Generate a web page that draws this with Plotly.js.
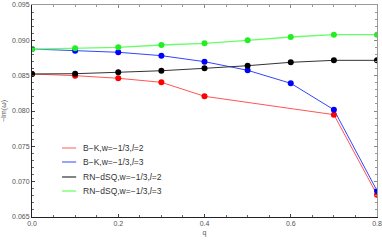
<!DOCTYPE html>
<html><head><meta charset="utf-8">
<script src="https://cdn.plot.ly/plotly-3.0.1.min.js"></script>
<style>html,body{margin:0;padding:0;background:#fff}#c{width:382px;height:240px}</style>
</head><body><div id="c"></div>
<script>
const qRed = [0, 0.1, 0.2, 0.3, 0.4, 0.7, 0.8];
const redBK2 = [0.08524, 0.0850, 0.08463, 0.08406, 0.08208, 0.07948, 0.06816];
const qAll = [0, 0.1, 0.2, 0.3, 0.4, 0.5, 0.6, 0.7, 0.8];
const blueBK3 = [0.08877, 0.08853, 0.08831, 0.08783, 0.08698, 0.08576, 0.08392, 0.08018, 0.06872];
const blackRN2 = [0.08524, 0.08528, 0.08548, 0.08570, 0.08604, 0.08641, 0.08689, 0.08717, 0.08717];
const greenRN3 = [0.08877, 0.08887, 0.08901, 0.08934, 0.08958, 0.09000, 0.09047, 0.0908, 0.0908];
const names = ["B\u2212K,w=\u22121/3,<i>l</i>=2", "B\u2212K,w=\u22121/3,<i>l</i>=3",
               "RN\u2212dSQ,w=\u22121/3,<i>l</i>=2", "RN\u2212dSQ,w=\u22121/3,<i>l</i>=3"];
const xTicks = [0, 0.2, 0.4, 0.6, 0.8];
const xTickText = ["0.0", "0.2", "0.4", "0.6", "0.8"];
const yTicks = [0.065, 0.070, 0.075, 0.080, 0.085, 0.090, 0.095];
const yTickText = ["0.065", "0.070", "0.075", "0.080", "0.085", "0.090", "0.095"];

const series = [
  {x: qRed, y: redBK2, line: "#ff5555", mk: "#ff0000", lw: 1},
  {x: qAll, y: blueBK3, line: "#3344ff", mk: "#0000ff", lw: 1},
  {x: qAll, y: blackRN2, line: "#333333", mk: "#000000", lw: 1},
  {x: qAll, y: greenRN3, line: "#66ff66", mk: "#22ee22", lw: 1.3}
];
const traces = [];
series.forEach((s, i) => {
  traces.push({x: s.x, y: s.y, mode: "lines", name: names[i],
    line: {color: s.line, width: s.lw}, showlegend: false, hoverinfo: "skip"});
});
series.forEach((s, i) => {
  traces.push({x: s.x, y: s.y, mode: "markers", showlegend: false,
    marker: {color: s.mk, size: 6}, hoverinfo: "skip"});
});
// dummy trace to host mirrored frame axes
traces.push({x: [0], y: [0.08], xaxis: "x2", yaxis: "y2", mode: "markers",
  marker: {opacity: 0}, showlegend: false, hoverinfo: "skip"});

// legend drawn as shapes + annotations (paper coordinates)
const legRowY = [0.3255, 0.2594, 0.1887, 0.1226];
const legendColors = ["#ff7777", "#5566ff", "#333333", "#88ff88"];
const shapes = [], annotations = [];
legRowY.forEach((yy, i) => {
  shapes.push({type: "line", xref: "paper", yref: "paper", x0: 0.087, x1: 0.128, y0: yy, y1: yy,
    line: {color: legendColors[i], width: i === 3 ? 1.6 : 1.2}});
  annotations.push({xref: "paper", yref: "paper", x: 0.142, y: yy, xanchor: "left", yanchor: "middle",
    text: names[i], showarrow: false,
    font: {family: "Liberation Sans, Arial, sans-serif", size: 8.5, color: "#333"}});
});

const tickFont = {family: "Liberation Sans, Arial, sans-serif", size: 7, color: "#555"};
const layout = {
  width: 382, height: 240,
  margin: {l: 32, r: 5, t: 5, b: 23},
  paper_bgcolor: "#fff", plot_bgcolor: "#fff",
  showlegend: false,
  shapes: shapes, annotations: annotations,
  xaxis: {range: [0, 0.8], tickvals: xTicks, ticktext: xTickText, ticks: "inside",
    ticklen: 3, tickcolor: "#444", showline: true, linecolor: "#222", linewidth: 1,
    showgrid: false, zeroline: false, tickfont: tickFont,
    minor: {dtick: 0.05, ticks: "inside", ticklen: 2, tickcolor: "#666"},
    title: {text: "q", font: {family: "Liberation Sans, Arial, sans-serif", size: 7, color: "#555"}, standoff: 3}},
  yaxis: {range: [0.065, 0.095], tickvals: yTicks, ticktext: yTickText, ticks: "inside",
    ticklen: 3, tickcolor: "#444", showline: true, linecolor: "#222", linewidth: 1,
    showgrid: false, zeroline: false, tickfont: tickFont,
    minor: {dtick: 0.001, ticks: "inside", ticklen: 2, tickcolor: "#666"},
    title: {text: "\u2212Im(\u03c9)", font: {family: "Liberation Sans, Arial, sans-serif", size: 7, color: "#555"}, standoff: 4}},
  xaxis2: {overlaying: "x", side: "top", range: [0, 0.8], tickvals: xTicks, ticks: "inside",
    ticklen: 3, tickcolor: "#888", showticklabels: false, showline: true, linecolor: "#999",
    showgrid: false, zeroline: false,
    minor: {dtick: 0.05, ticks: "inside", ticklen: 2, tickcolor: "#999"}},
  yaxis2: {overlaying: "y", side: "right", range: [0.065, 0.095], tickvals: yTicks, ticks: "inside",
    ticklen: 3, tickcolor: "#888", showticklabels: false, showline: true, linecolor: "#999",
    showgrid: false, zeroline: false,
    minor: {dtick: 0.001, ticks: "inside", ticklen: 2, tickcolor: "#999"}}
};
Plotly.newPlot("c", traces, layout, {staticPlot: true, displayModeBar: false});
</script></body></html>
